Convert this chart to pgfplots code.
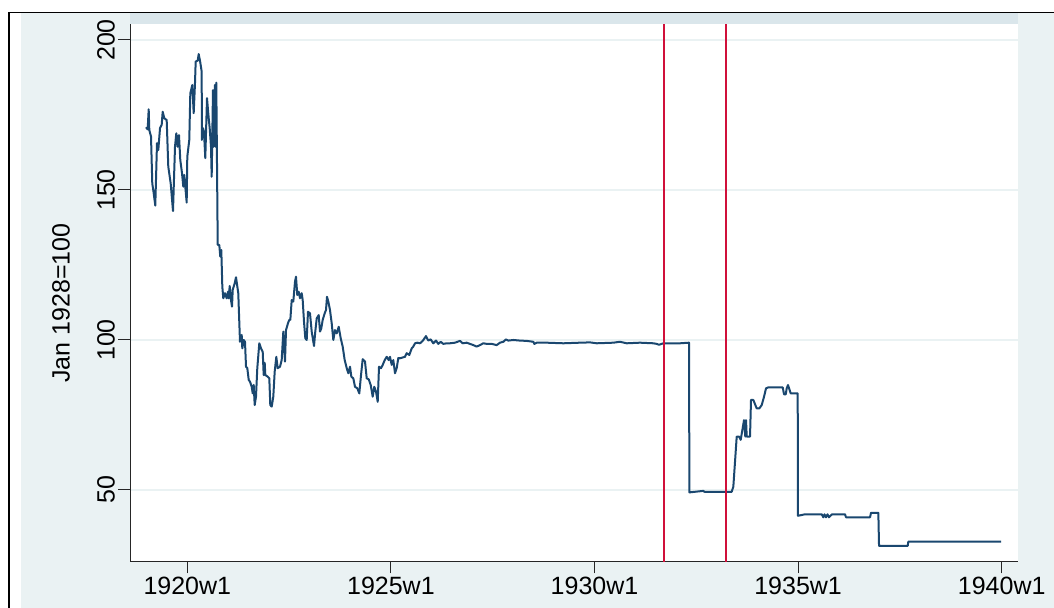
\documentclass[border=0pt]{standalone}
\usepackage{fontspec}
\setmainfont{Liberation Sans}
\usepackage{pgfplots}
\pgfplotsset{compat=1.18}
\definecolor{bgc}{RGB}{234,242,243}
\definecolor{stripc}{RGB}{218,230,235}
\definecolor{navyc}{RGB}{26,71,111}
\definecolor{redc}{RGB}{208,16,58}
\definecolor{gridc}{RGB}{234,242,243}
\begin{document}
\begin{tikzpicture}[x=1bp,y=1bp]
\fill[white] (0,0) rectangle (1054,608);
\fill[bgc] (21,0) rectangle (1054,595);
\fill[stripc] (130,584) rectangle (1018,594.5);
\fill[white] (130,46.3) rectangle (1018,584);
\draw[black, line width=1.3bp] (9,0) -- (9,595.3) -- (1054,595.3);
\begin{axis}[
  at={(130bp,46.3bp)}, anchor=south west,
  scale only axis, width=888bp, height=537.7bp,
  xmin=1918.593, xmax=1940.4, ymin=26.1, ymax=205.33,
  axis x line*=bottom, axis y line*=left,
  axis line style={black!85, line width=1bp, -},
  xtick={1920,1925,1930,1935,1940},
  xticklabels={1920w1,1925w1,1930w1,1935w1,1940w1},
  ytick={50,100,150,200},
  ymajorgrids, grid style={gridc, line width=1.6bp},
  tick style={black!85, line width=1bp},
  tick align=outside, major tick length=11.6bp,
  tick label style={font=\fontsize{25bp}{30bp}\selectfont},
  yticklabel style={rotate=90, anchor=south},
  /pgf/number format/assume math mode=true,
  ylabel={Jan 1928=100},
  ylabel style={font=\fontsize{25bp}{30bp}\selectfont, at={(axis description cs:-0.0777,0.481)}, anchor=center},
]
\addplot[navyc, line width=2bp, line join=round] coordinates {
(1918.986,170.9) (1919.027,170.2) (1919.052,176.9) (1919.067,170.0) (1919.109,167.8)
(1919.140,152.2) (1919.175,148.9) (1919.214,144.8) (1919.256,165.6) (1919.288,163.3)
(1919.330,170.6) (1919.371,171.7) (1919.396,176.1) (1919.435,173.9) (1919.494,173.3)
(1919.533,157.8) (1919.592,152.2) (1919.649,143.0) (1919.698,164.4) (1919.730,168.9)
(1919.764,164.4) (1919.796,168.3) (1919.828,160.0) (1919.870,155.6) (1919.902,151.1)
(1919.926,155.0) (1919.985,145.8) (1920.000,161.1) (1920.049,166.7) (1920.074,182.2)
(1920.123,185.0) (1920.157,175.6) (1920.189,185.6) (1920.206,192.8) (1920.255,193.1)
(1920.280,195.3) (1920.312,193.1) (1920.354,189.4) (1920.357,166.7) (1920.386,170.6)
(1920.410,169.4) (1920.442,160.6) (1920.484,180.6) (1920.526,173.9) (1920.550,170.6)
(1920.582,164.4) (1920.599,154.4) (1920.631,183.3) (1920.648,164.4) (1920.680,185.0)
(1920.697,164.4) (1920.712,185.8) (1920.747,131.7) (1920.786,131.7) (1920.810,127.8)
(1920.835,130.0) (1920.860,117.8) (1920.884,113.9) (1920.926,115.6) (1920.968,113.9)
(1921.000,116.1) (1921.017,113.9) (1921.041,118.0) (1921.073,113.3) (1921.098,111.1)
(1921.115,116.7) (1921.164,118.9) (1921.196,120.9) (1921.252,115.6) (1921.294,99.4)
(1921.336,101.7) (1921.351,97.2) (1921.385,100.0) (1921.417,99.4) (1921.442,91.1)
(1921.474,90.6) (1921.508,86.7) (1921.540,86.1) (1921.582,84.4) (1921.606,82.2)
(1921.631,85.0) (1921.655,78.3) (1921.687,81.1) (1921.719,90.6) (1921.768,98.9)
(1921.810,97.2) (1921.852,96.1) (1921.876,88.3) (1921.901,92.4) (1921.916,88.3)
(1921.974,87.8) (1922.014,87.2) (1922.038,78.3) (1922.073,77.8) (1922.112,81.1)
(1922.146,89.4) (1922.186,94.4) (1922.220,90.6) (1922.277,91.1) (1922.318,93.3)
(1922.358,102.8) (1922.399,92.8) (1922.424,103.3) (1922.473,105.6) (1922.505,106.7)
(1922.530,106.7) (1922.564,113.3) (1922.603,112.8) (1922.645,119.4) (1922.669,121.1)
(1922.701,115.0) (1922.736,116.1) (1922.768,113.9) (1922.809,115.6) (1922.834,113.3)
(1922.866,106.1) (1922.898,100.6) (1922.932,100.0) (1922.964,109.4) (1923.013,108.9)
(1923.055,102.8) (1923.112,98.0) (1923.143,102.8) (1923.178,107.2) (1923.227,108.3)
(1923.259,102.8) (1923.291,103.9) (1923.325,106.7) (1923.374,108.9) (1923.406,110.0)
(1923.431,114.4) (1923.463,112.8) (1923.504,110.0) (1923.546,105.6) (1923.586,100.0)
(1923.627,103.3) (1923.669,102.2) (1923.718,104.4) (1923.767,100.6) (1923.816,97.8)
(1923.865,93.3) (1923.915,90.6) (1923.954,88.9) (1923.996,91.1) (1924.028,87.8)
(1924.077,87.2) (1924.118,84.4) (1924.175,83.9) (1924.224,82.2) (1924.266,88.3)
(1924.307,93.6) (1924.364,92.8) (1924.406,87.2) (1924.455,86.9) (1924.504,85.0)
(1924.553,81.1) (1924.592,84.4) (1924.634,82.8) (1924.676,79.4) (1924.708,91.1)
(1924.757,90.6) (1924.799,91.7) (1924.848,93.3) (1924.897,94.4) (1924.946,93.3)
(1924.978,94.4) (1925.020,91.7) (1925.059,93.3) (1925.101,88.9) (1925.142,90.6)
(1925.182,94.0) (1925.223,93.9) (1925.346,94.4) (1925.388,95.6) (1925.452,95.0)
(1925.511,97.2) (1925.550,97.8) (1925.592,98.9) (1925.648,99.1) (1925.715,98.9)
(1925.781,99.7) (1925.862,101.3) (1925.918,99.8) (1925.977,100.2) (1926.041,98.9)
(1926.108,99.8) (1926.164,98.7) (1926.223,99.4) (1926.287,98.7) (1926.370,98.9)
(1926.451,98.9) (1926.574,99.1) (1926.697,99.7) (1926.763,98.9) (1926.861,99.1)
(1926.942,98.7) (1927.024,98.3) (1927.107,97.8) (1927.188,98.3) (1927.269,98.9)
(1927.353,98.7) (1927.475,98.7) (1927.598,98.3) (1927.679,99.1) (1927.760,99.4)
(1927.827,100.2) (1927.883,99.8) (1928.006,100.0) (1928.170,99.8) (1928.335,99.7)
(1928.497,99.4) (1928.522,98.7) (1928.581,99.1) (1928.826,99.1) (1929.234,98.9)
(1929.644,99.1) (1929.890,99.2) (1930.054,98.9) (1930.462,99.1) (1930.626,99.4)
(1930.791,98.9) (1931.117,99.1) (1931.444,98.9) (1931.528,98.7) (1931.584,98.4)
(1931.690,98.9) (1932.100,98.9) (1932.321,99.1) (1932.330,49.2) (1932.672,49.7)
(1932.700,49.4) (1933.369,49.4) (1933.409,51.1) (1933.492,67.8) (1933.549,67.8)
(1933.590,66.7) (1933.671,73.3) (1933.703,67.8) (1933.721,73.3) (1933.738,67.8)
(1933.819,67.8) (1933.843,80.0) (1933.900,80.0) (1933.983,77.2) (1934.047,77.2)
(1934.106,78.3) (1934.163,81.1) (1934.212,83.9) (1934.268,84.2) (1934.475,84.2)
(1934.622,84.2) (1934.654,81.9) (1934.696,81.9) (1934.720,83.9) (1934.752,85.0)
(1934.818,82.2) (1934.990,82.2) (1934.995,41.4) (1935.170,41.9) (1935.580,41.9)
(1935.619,40.9) (1935.648,41.9) (1935.685,40.9) (1935.722,41.9) (1935.759,40.9)
(1935.833,41.9) (1935.948,41.9) (1936.152,41.9) (1936.176,40.9) (1936.766,40.9)
(1936.790,42.4) (1936.970,42.4) (1936.987,31.4) (1937.692,31.4) (1937.706,32.8)
(1939.983,32.8)
};
\addplot[redc, line width=2bp] coordinates {(1931.71,26.1) (1931.71,205.33)};
\addplot[redc, line width=2bp] coordinates {(1933.24,26.1) (1933.24,205.33)};
\end{axis}
\pgfresetboundingbox
\useasboundingbox (0,0) rectangle (1054,608);
\end{tikzpicture}
\end{document}
